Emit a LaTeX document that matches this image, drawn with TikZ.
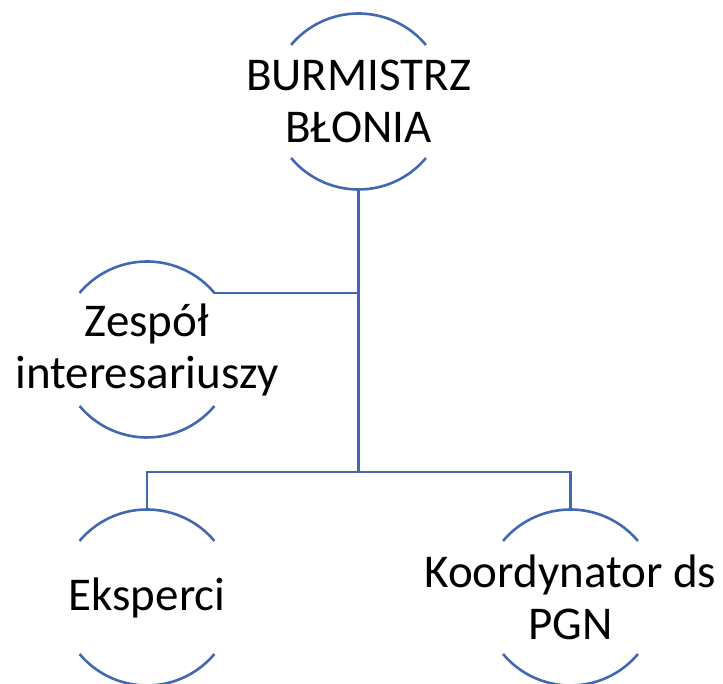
\documentclass[tikz,border=0pt]{standalone}
\usepackage{fontspec}
\setmainfont{Carlito}
\definecolor{niebieski}{RGB}{66,104,176}

\def\luki#1{
	\draw[linia] (#1.center) ++(40:88) coordinate (#1-pg) arc (40:140:88)
		(#1.center) ++(220:88) arc (220:320:88);
	\path (#1.center) ++(90:88) coordinate (#1-g)
		(#1.center) ++(270:88) coordinate (#1-d);
}

\begin{document}
\begin{tikzpicture}[x=1pt, y=1pt,
	linia/.style={draw=niebieski, line width=2.6pt},
	rola/.style={font=\fontsize{47}{52}\selectfont, align=center, inner sep=0pt}]
	\useasboundingbox (0, 0) rectangle (723, 684);

	\node[rola] (burmistrz) at (358.5, 582.5) {BURMISTRZ\\BŁONIA};
	\node[rola] (zespol) at (147, 334.5) {Zespół\\interesariuszy};
	\node[rola] (eksperci) at (147, 86.5) {Eksperci};
	\node[rola] (koordynator) at (570.5, 86.5) {Koordynator ds\\PGN};

	\luki{burmistrz}
	\luki{zespol}
	\luki{eksperci}
	\luki{koordynator}

	\coordinate (szyna) at (358.5, 212);
	\draw[linia] (burmistrz-d) -- (szyna);
	\draw[linia] (zespol-pg) -- (zespol-pg -| burmistrz-d);
	\draw[linia] (eksperci-g) |- (szyna) -| (koordynator-g);
\end{tikzpicture}
\end{document}
